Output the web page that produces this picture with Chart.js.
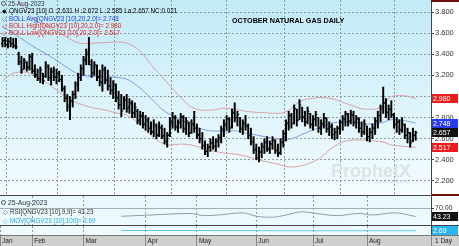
<!DOCTYPE html>
<html>
<head>
<meta charset="utf-8">
<title>October Natural Gas Daily</title>
<script src="https://cdn.jsdelivr.net/npm/chart.js@4.4.1/dist/chart.umd.min.js"></script>
<style>
  body { margin: 0; background: #fff; }
  #wrap { position: relative; width: 459px; height: 246px; overflow: hidden; font-family: "Liberation Sans", Arial, sans-serif; }
  canvas { position: absolute; left: 0; }
  .t { position: absolute; white-space: nowrap; line-height: 1; }
  .lg { font-size: 6.3px; }
  .box { position: absolute; left: 432px; width: 26px; height: 9px; font-size: 7px; line-height: 9px; color: #fff; padding-left: 1px; box-sizing: border-box; }
  .rule { position: absolute; }
  .mag { position: absolute; width: 3px; height: 3px; border: 1px solid #555; border-radius: 50%; }
</style>
</head>
<body>
<div id="wrap">
  <div class="rule" style="left:0;top:235px;width:459px;height:11px;background:#cfcfcf"></div>
  <canvas id="main" width="459" height="195" style="top:0"></canvas>
  <canvas id="rsi" width="459" height="29" style="top:196px"></canvas>
  <canvas id="mov" width="459" height="20" style="top:226px"></canvas>

  <div class="rule" style="left:431px;top:0;width:28px;height:2px;background:#6b1111"></div>
  <div class="rule" style="left:0;top:195px;width:459px;height:1px;background:#444"></div>
  <div class="rule" style="left:431px;top:194px;width:28px;height:2px;background:#6b1111"></div>
  <div class="rule" style="left:0;top:225px;width:459px;height:1px;background:#444"></div>
  <div class="rule" style="left:0;top:235px;width:459px;height:1px;background:#777"></div>
  <div class="rule" style="left:431px;top:235px;width:1px;height:11px;background:#888"></div>

  <div class="t" style="left:232px;top:16.5px;font-size:7.2px;font-weight:bold;color:#000">OCTOBER NATURAL GAS DAILY</div>

  <div class="mag" style="left:1px;top:1px"></div>
  <div class="t lg" style="left:8px;top:1px;color:#333">25-Aug-2023</div>
  <div class="t lg" style="left:1.5px;top:8.4px;color:#000">◆</div>
  <div class="t lg" id="lgQ" style="left:9px;top:8.4px;color:#000"></div>
  <div class="t lg" style="left:1.5px;top:15.6px;color:#1f3fd8">◇</div>
  <div class="t lg" id="lgAvg" style="left:9px;top:15.6px;color:#1f3fd8"></div>
  <div class="t lg" style="left:1.5px;top:22.9px;color:#e02020">◇</div>
  <div class="t lg" id="lgHigh" style="left:9px;top:22.9px;color:#e02020"></div>
  <div class="t lg" style="left:1.5px;top:30.2px;color:#e02020">◇</div>
  <div class="t lg" id="lgLow" style="left:9px;top:30.2px;color:#e02020"></div>

  <div class="mag" style="left:1px;top:199.5px"></div>
  <div class="t" style="left:8px;top:199.5px;font-size:6.8px;color:#333">25-Aug-2023</div>
  <div class="t lg" style="left:3px;top:208.8px;color:#222">◇</div>
  <div class="t lg" id="lgRsi" style="left:10px;top:208.8px;color:#333"></div>
  <div class="t lg" style="left:3px;top:217.8px;color:#29a8e0">◇</div>
  <div class="t lg" id="lgMov" style="left:10px;top:217.8px;color:#29a8e0"></div>

  <div class="t" style="left:331px;top:162px;font-size:18px;font-weight:bold;color:#dde2e5">ProphetX</div>
  <div class="t" style="left:378px;top:180px;font-size:4px;color:#cfd4d7">powered by DTN</div>

  <div class="t" style="left:435px;top:237.5px;font-size:6.5px;color:#222">1 Day</div>
</div>
<script>
// barres OHLC quotidiennes (indice de séance)
const highs = [3.56,3.56,3.55,3.56,3.55,3.55,3.42,3.38,3.36,3.33,
  3.40,3.41,3.30,3.26,3.28,3.22,3.33,3.30,3.27,3.28,
  3.26,3.24,3.20,3.10,3.02,3.00,3.05,3.14,3.22,3.30,
  3.38,3.45,3.56,3.35,3.33,3.30,3.25,3.30,3.28,3.25,
  3.18,3.15,3.12,3.05,3.02,3.00,3.02,2.98,2.96,2.94,
  2.88,2.86,2.85,2.82,2.80,2.76,2.78,2.74,2.76,2.73,
  2.70,2.66,2.80,2.85,2.82,2.78,2.84,2.82,2.80,2.76,
  2.78,2.86,2.74,2.70,2.66,2.58,2.55,2.60,2.62,2.60,
  2.64,2.72,2.78,2.82,2.80,2.88,2.94,2.86,2.80,2.78,
  2.82,2.74,2.70,2.62,2.55,2.52,2.56,2.60,2.62,2.58,
  2.62,2.59,2.55,2.60,2.68,2.78,2.86,2.84,2.92,2.88,
  2.97,2.90,2.86,2.90,2.84,2.82,2.86,2.80,2.78,2.84,
  2.80,2.76,2.74,2.70,2.72,2.78,2.82,2.86,2.84,2.87,
  2.86,2.82,2.80,2.76,2.78,2.72,2.70,2.74,2.80,2.86,
  2.92,3.09,2.98,2.92,2.96,2.84,2.80,2.78,2.80,2.74,
  2.70,2.66,2.70,2.672]
const lows = [3.47,3.47,3.46,3.47,3.46,3.45,3.30,3.22,3.26,3.24,
  3.25,3.22,3.18,3.15,3.13,3.12,3.18,3.15,3.11,3.15,
  3.12,3.14,3.05,2.95,2.86,2.78,2.90,2.98,3.05,3.15,
  3.20,3.30,3.30,3.18,3.20,3.15,3.10,3.05,3.12,3.06,
  3.02,2.98,2.95,2.88,2.81,2.88,2.85,2.84,2.80,2.80,
  2.74,2.73,2.70,2.68,2.66,2.64,2.62,2.60,2.62,2.60,
  2.55,2.52,2.62,2.70,2.68,2.66,2.70,2.66,2.64,2.62,
  2.65,2.66,2.60,2.56,2.50,2.45,2.43,2.48,2.50,2.48,
  2.52,2.56,2.62,2.68,2.66,2.70,2.76,2.72,2.66,2.64,
  2.68,2.60,2.54,2.46,2.40,2.38,2.42,2.46,2.48,2.46,
  2.50,2.46,2.43,2.45,2.52,2.58,2.68,2.70,2.74,2.72,
  2.78,2.76,2.72,2.74,2.70,2.68,2.72,2.66,2.64,2.70,
  2.66,2.63,2.60,2.59,2.60,2.64,2.68,2.72,2.72,2.74,
  2.72,2.70,2.66,2.62,2.64,2.58,2.57,2.60,2.64,2.70,
  2.76,2.84,2.80,2.78,2.80,2.70,2.66,2.64,2.66,2.60,
  2.56,2.52,2.57,2.585]
const opens = [3.50,3.53,3.49,3.52,3.50,3.48,3.40,3.33,3.26,3.32,
  3.28,3.37,3.25,3.20,3.17,3.22,3.19,3.28,3.18,3.23,
  3.18,3.21,3.16,3.07,2.99,2.92,2.95,3.02,3.10,3.18,
  3.26,3.34,3.42,3.30,3.23,3.28,3.19,3.13,3.25,3.16,
  3.10,3.06,3.10,2.99,2.92,2.88,2.96,2.90,2.93,2.85,
  2.86,2.78,2.81,2.74,2.77,2.70,2.67,2.72,2.64,2.70,
  2.63,2.57,2.64,2.75,2.80,2.72,2.75,2.80,2.70,2.75,
  2.66,2.74,2.70,2.64,2.60,2.54,2.48,2.52,2.56,2.53,
  2.57,2.60,2.68,2.73,2.78,2.71,2.84,2.80,2.80,2.70,
  2.74,2.72,2.63,2.57,2.50,2.42,2.47,2.52,2.56,2.51,
  2.55,2.58,2.49,2.47,2.56,2.64,2.74,2.82,2.75,2.88,
  2.78,2.89,2.81,2.76,2.84,2.74,2.78,2.80,2.70,2.74,
  2.79,2.70,2.71,2.64,2.66,2.70,2.75,2.78,2.83,2.77,
  2.82,2.76,2.78,2.70,2.67,2.72,2.62,2.66,2.70,2.76,
  2.82,2.90,2.94,2.85,2.88,2.82,2.74,2.76,2.69,2.73,
  2.63,2.65,2.58,2.631]
const closes = [3.53,3.49,3.52,3.50,3.48,3.47,3.33,3.25,3.34,3.27,
  3.38,3.24,3.21,3.17,3.25,3.15,3.30,3.18,3.24,3.19,
  3.22,3.16,3.08,2.98,2.90,2.96,3.02,3.12,3.18,3.27,
  3.35,3.40,3.33,3.22,3.30,3.18,3.14,3.26,3.15,3.10,
  3.06,3.12,2.98,2.92,2.86,2.97,2.89,2.94,2.84,2.90,
  2.77,2.82,2.73,2.78,2.70,2.66,2.74,2.63,2.71,2.62,
  2.58,2.63,2.76,2.80,2.71,2.76,2.81,2.69,2.77,2.65,
  2.74,2.70,2.63,2.60,2.53,2.48,2.52,2.56,2.53,2.58,
  2.61,2.69,2.74,2.79,2.70,2.85,2.80,2.83,2.69,2.75,
  2.72,2.63,2.57,2.49,2.42,2.48,2.53,2.57,2.50,2.55,
  2.59,2.49,2.46,2.57,2.65,2.75,2.82,2.74,2.89,2.77,
  2.92,2.80,2.76,2.86,2.73,2.79,2.83,2.70,2.74,2.80,
  2.69,2.72,2.64,2.66,2.70,2.76,2.79,2.84,2.76,2.83,
  2.75,2.79,2.70,2.66,2.74,2.62,2.66,2.70,2.77,2.82,
  2.88,2.94,2.85,2.88,2.83,2.73,2.76,2.68,2.74,2.63,
  2.66,2.56,2.636,2.657]

// bandes de Bollinger (20, 2.0) lues aux séances suivantes
const bandIdx = [0,4,8,11,15,19,23,26,30,34,38,42,46,50,53,56,59,62,66,70,74,78,82,86,90,94,98,102,106,110,114,118,122,126,130,134,138,141,144,148,153]
const bollHigh = [4.11,3.98,3.83,3.75,3.68,3.63,3.575,3.53,3.50,3.505,3.51,3.516,3.506,3.45,3.37,3.27,3.19,3.10,2.99,2.90,2.87,2.872,2.89,2.88,2.86,2.85,2.845,2.84,2.87,2.95,2.98,2.99,2.98,2.945,2.91,2.88,2.88,2.92,3.0,3.01,2.98]
const bollAvg = [3.66,3.60,3.53,3.48,3.42,3.36,3.29,3.24,3.20,3.19,3.19,3.18,3.165,3.10,3.033,2.957,2.88,2.83,2.78,2.73,2.69,2.673,2.673,2.675,2.654,2.635,2.616,2.597,2.595,2.63,2.675,2.711,2.749,2.758,2.758,2.739,2.739,2.755,2.78,2.775,2.748]
const bollLow = [3.147,3.222,3.232,3.213,3.156,3.08,3.005,2.957,2.919,2.89,2.872,2.844,2.825,2.758,2.683,2.607,2.56,2.54,2.55,2.54,2.512,2.484,2.465,2.455,2.436,2.408,2.38,2.36,2.332,2.34,2.37,2.425,2.512,2.569,2.588,2.588,2.578,2.569,2.54,2.53,2.517]

// RSI (9,9) et moyenne mobile 100
const rsiIdx = [44,55,62,69,75,80,89,94,100,105,111,116,124,132,137,145,153]
const rsiVals = [44,48,51,53,46,48,55,44,41,48,58,53,46,53,48,55,43.23]
const movIdx = [44,70,100,130,153]
const movVals = [2.70,2.70,2.69,2.69,2.69]

// axes
const monthNames = ['Jan','Feb','Mar','Apr','May','Jun','Jul','Aug']
const monthIdx = [-0.9,11,30,53,72,94,115,135]
const priceTicks = [2.2,2.4,2.6,2.8,3.0,3.2,3.4,3.6,3.8]
const rsiTicks = [70]

const xMin = -0.93, xMax = 158.7
const gridColor = '#8d9ba1'
const fontFam = '"Liberation Sans", Arial, sans-serif'

const plotBg = {
  id: 'plotBg',
  beforeDraw(chart, args, opts) {
    const { ctx, chartArea: a } = chart
    const g = ctx.createLinearGradient(0, a.top, 0, a.bottom)
    g.addColorStop(0, opts.from)
    g.addColorStop(1, opts.to)
    ctx.save()
    ctx.fillStyle = g
    ctx.fillRect(a.left, a.top, a.right - a.left, a.bottom - a.top)
    ctx.restore()
  }
}

// petits traits d'ouverture (gauche) et de clôture (droite)
const ohlcTicks = {
  id: 'ohlcTicks',
  afterDatasetsDraw(chart) {
    const xs = chart.scales.x, ys = chart.scales.y, ctx = chart.ctx
    ctx.save()
    ctx.strokeStyle = '#000'
    ctx.lineWidth = 1
    ctx.beginPath()
    opens.forEach((o, i) => {
      const px = xs.getPixelForValue(i)
      const po = ys.getPixelForValue(o)
      const pc = ys.getPixelForValue(closes[i])
      ctx.moveTo(px - 1.6, po); ctx.lineTo(px, po)
      ctx.moveTo(px, pc); ctx.lineTo(px + 1.8, pc)
    })
    ctx.stroke()
    ctx.restore()
  }
}

function xHidden(ticks) {
  return {
    type: 'linear', min: xMin, max: xMax, offset: false,
    afterBuildTicks: s => { s.ticks = ticks.map(v => ({ value: v })) },
    afterFit: s => { s.height = 0; s.paddingLeft = 0; s.paddingRight = 0 },
    ticks: { display: false },
    grid: { color: gridColor, drawTicks: false },
    border: { display: false, dash: [2, 2] }
  }
}

function bandLine(vals, color) {
  return {
    type: 'line',
    data: bandIdx.map((x, k) => ({ x, y: vals[k] })),
    borderColor: color, borderWidth: 1, pointRadius: 0,
    cubicInterpolationMode: 'monotone'
  }
}

const mainChart = new Chart(document.getElementById('main'), {
  type: 'bar',
  data: {
    datasets: [
      {
        type: 'bar',
        data: highs.map((h, i) => ({ x: i, y: [lows[i], h] })),
        backgroundColor: '#000', barThickness: 1.3, borderWidth: 0
      },
      bandLine(bollAvg, '#7ea1df'),
      bandLine(bollHigh, '#d6a4a4'),
      bandLine(bollLow, '#d6a4a4')
    ]
  },
  options: {
    responsive: false, animation: false, events: [],
    layout: { padding: 0 },
    plugins: { legend: { display: false }, tooltip: { enabled: false }, plotBg: { from: '#c2eaf7', to: '#f4fcff' } },
    scales: {
      x: xHidden(monthIdx.slice(1)),
      y: {
        position: 'right', min: 2.067, max: 3.914,
        afterBuildTicks: s => { s.ticks = priceTicks.map(v => ({ value: v })) },
        afterFit: s => { s.width = 28; s.paddingTop = 0; s.paddingBottom = 0 },
        ticks: { font: { size: 7.5, family: fontFam }, color: '#333', padding: 1, callback: v => v.toFixed(3) },
        grid: { color: gridColor, tickLength: 3, tickColor: '#444', tickBorderDash: [] },
        border: { color: '#444', dash: [2, 2] }
      }
    }
  },
  plugins: [plotBg, ohlcTicks]
})

const rsiChart = new Chart(document.getElementById('rsi'), {
  type: 'line',
  data: {
    datasets: [{
      data: rsiIdx.map((x, k) => ({ x, y: rsiVals[k] })),
      borderColor: '#9a9a9a', borderWidth: 1, pointRadius: 0, cubicInterpolationMode: 'monotone'
    }]
  },
  options: {
    responsive: false, animation: false, events: [],
    layout: { padding: 0 },
    plugins: { legend: { display: false }, tooltip: { enabled: false }, plotBg: { from: '#e6f7fc', to: '#eefafd' } },
    scales: {
      x: xHidden(monthIdx.slice(1)),
      y: {
        position: 'right', min: 16.5, max: 107.8,
        afterBuildTicks: s => { s.ticks = rsiTicks.map(v => ({ value: v })) },
        afterFit: s => { s.width = 28; s.paddingTop = 0; s.paddingBottom = 0 },
        ticks: { font: { size: 7, family: fontFam }, color: '#333', padding: 1, callback: v => v.toFixed(2) },
        grid: { color: '#a4adb1', tickLength: 3, tickColor: '#444' },
        border: { color: '#444' }
      }
    }
  },
  plugins: [plotBg]
})

const movChart = new Chart(document.getElementById('mov'), {
  type: 'line',
  data: {
    datasets: [{
      data: movIdx.map((x, k) => ({ x, y: movVals[k] })),
      borderColor: '#5cc8f0', borderWidth: 1, pointRadius: 0
    }]
  },
  options: {
    responsive: false, animation: false, events: [],
    layout: { padding: 0 },
    plugins: { legend: { display: false }, tooltip: { enabled: false }, plotBg: { from: '#eefafd', to: '#f2fbfe' } },
    scales: {
      x: {
        type: 'linear', min: xMin, max: xMax, offset: false,
        afterBuildTicks: s => { s.ticks = monthIdx.map(v => ({ value: v })) },
        afterFit: s => { s.height = 11; s.paddingLeft = 0; s.paddingRight = 0 },
        ticks: {
          align: 'start', labelOffset: 2, padding: -9, maxRotation: 0, autoSkip: false,
          font: { size: 6.5, family: fontFam }, color: '#222',
          callback: (v, i) => monthNames[i]
        },
        grid: { color: gridColor, tickLength: 11, tickColor: '#888', tickBorderDash: [] },
        border: { display: false, dash: [2, 2] }
      },
      y: {
        position: 'right', min: 2.5, max: 2.9,
        afterFit: s => { s.width = 28; s.paddingTop = 0; s.paddingBottom = 0 },
        ticks: { display: false },
        grid: { display: false },
        border: { color: '#444' }
      }
    }
  },
  plugins: [plotBg]
})

// légendes et étiquettes de valeur
const wrap = document.getElementById('wrap')
const last = closes.length - 1
document.getElementById('lgQ').textContent =
  `QNGV23 [10] O :${opens[last].toFixed(3)} H :${highs[last].toFixed(3)} L :${lows[last].toFixed(3)} La:${closes[last].toFixed(3)} NC:${(closes[last] - closes[last - 1]).toFixed(3)}`
document.getElementById('lgAvg').textContent = `BOLL Avg[QNGV23 [10],20,2.0]= ${bollAvg[bollAvg.length - 1].toFixed(3)}`
document.getElementById('lgHigh').textContent = `BOLL High[QNGV23 [10],20,2.0]= ${bollHigh[bollHigh.length - 1].toFixed(3)}`
document.getElementById('lgLow').textContent = `BOLL Low[QNGV23 [10],20,2.0]= ${bollLow[bollLow.length - 1].toFixed(3)}`
document.getElementById('lgRsi').textContent = `RSI[QNGV23 [10],9,9]= ${rsiVals[rsiVals.length - 1].toFixed(2)}`
document.getElementById('lgMov').textContent = `MOV[QNGV23 [10],100]= ${movVals[movVals.length - 1].toFixed(2)}`

function addBox(chart, top, value, text, bg) {
  const y = top + chart.scales.y.getPixelForValue(value)
  const el = document.createElement('div')
  el.className = 'box'
  el.style.top = (y - 4.5) + 'px'
  el.style.background = bg
  el.textContent = text
  wrap.appendChild(el)
}
addBox(mainChart, 0, bollHigh[bollHigh.length - 1], bollHigh[bollHigh.length - 1].toFixed(3), '#ee1c1c')
addBox(mainChart, 0, bollAvg[bollAvg.length - 1], bollAvg[bollAvg.length - 1].toFixed(3), '#2a3cf0')
addBox(mainChart, 0, closes[last], closes[last].toFixed(3), '#111')
addBox(mainChart, 0, bollLow[bollLow.length - 1], bollLow[bollLow.length - 1].toFixed(3), '#ee1c1c')
addBox(rsiChart, 196, rsiVals[rsiVals.length - 1], rsiVals[rsiVals.length - 1].toFixed(2), '#111')
addBox(movChart, 226, movVals[movVals.length - 1], movVals[movVals.length - 1].toFixed(2), '#29b6f0')
</script>
</body>
</html>
